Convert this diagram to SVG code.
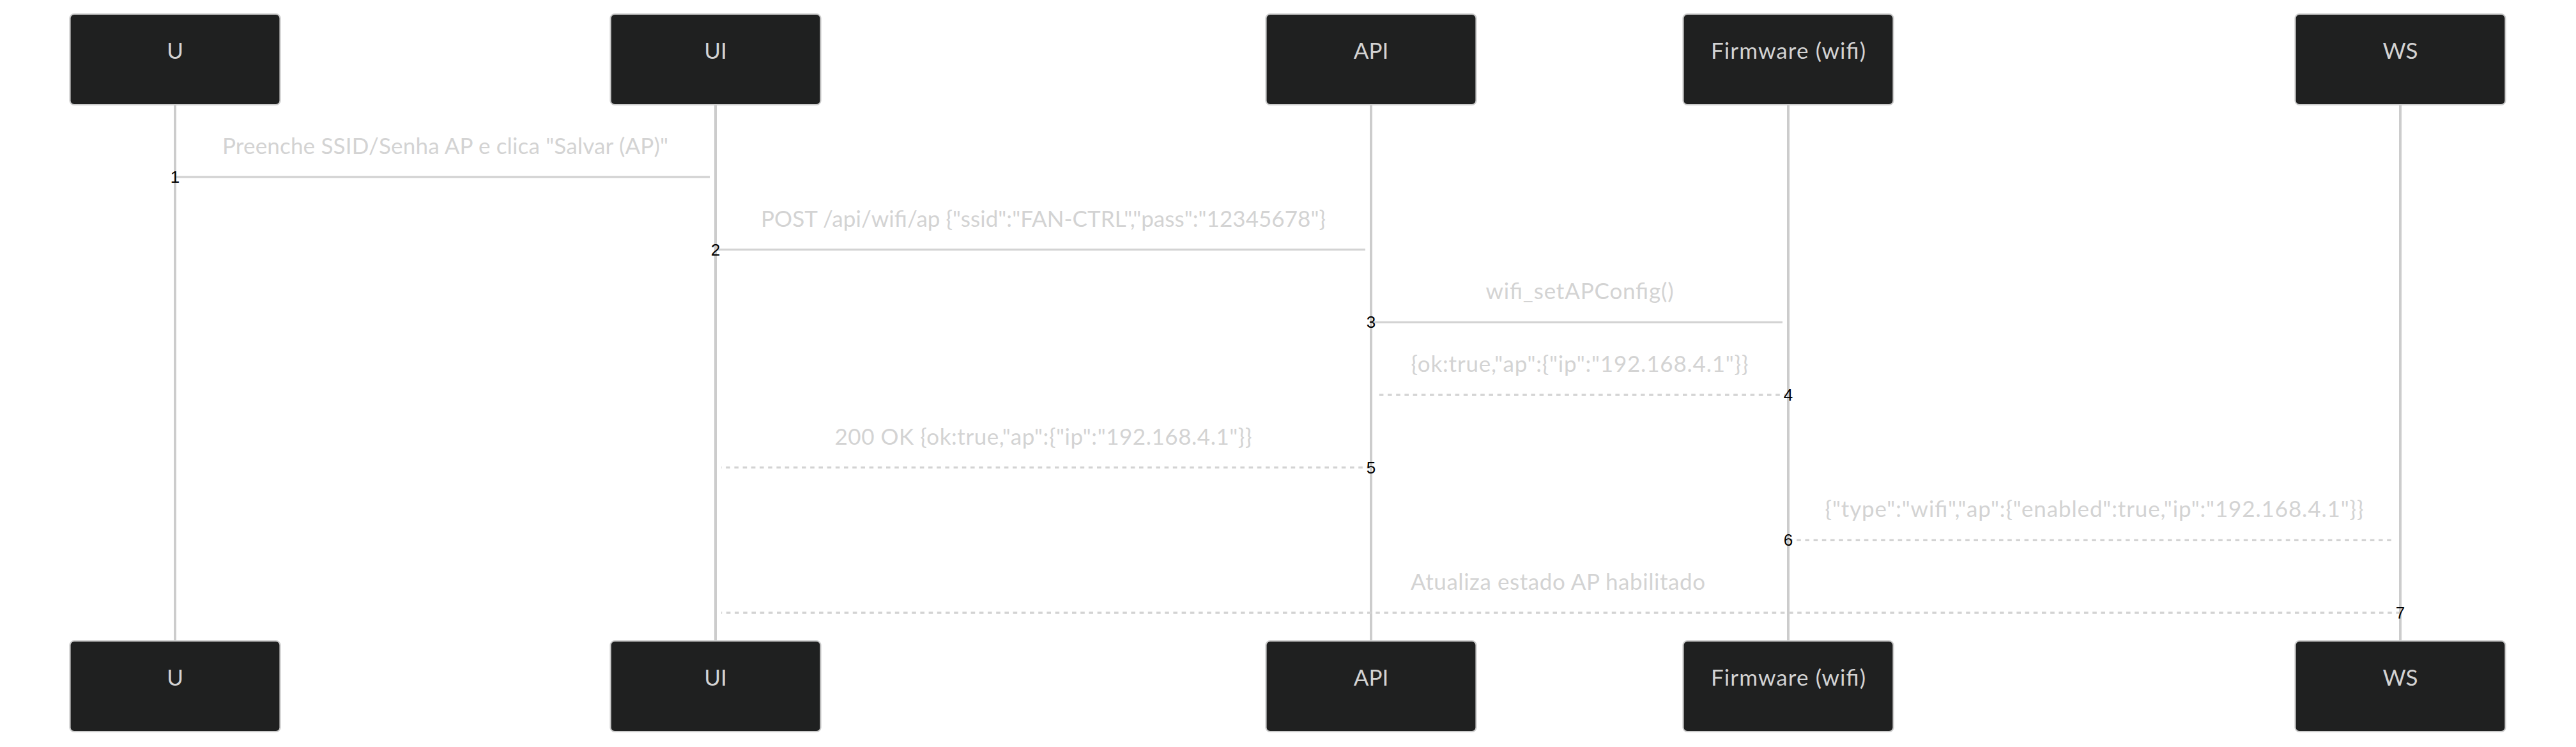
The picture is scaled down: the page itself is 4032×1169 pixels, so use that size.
<svg xmlns="http://www.w3.org/2000/svg" width="4032" height="1169" viewBox="0 0 4032 1169">
<style>
  .actor { fill: #1f2020; stroke: #cccccc; stroke-width: 2.2; }
  .actor-text { fill: #d3d3d3; font-family: Lato, "Open Sans", "Liberation Sans", sans-serif; font-size: 35px; text-anchor: middle; }
  .lifeline { stroke: #cccccc; stroke-width: 4; }
  .msg { stroke: #d3d3d3; stroke-width: 3.3; fill: none; }
  .dotted { stroke-dasharray: 6.6 6.6; }
  .msg-text { fill: #d3d3d3; font-family: Lato, "Open Sans", "Liberation Sans", sans-serif; font-size: 35px; text-anchor: middle; }
  .seq { fill: #000000; font-family: "Liberation Sans", Arial, sans-serif; font-size: 26px; text-anchor: middle; }
</style>
<rect width="4032" height="1169" fill="#ffffff"/>
<g id="lifelines">
  <line class="lifeline" x1="274" y1="164" x2="274" y2="1003"/>
  <line class="lifeline" x1="1120" y1="164" x2="1120" y2="1003"/>
  <line class="lifeline" x1="2146" y1="164" x2="2146" y2="1003"/>
  <line class="lifeline" x1="2799" y1="164" x2="2799" y2="1003"/>
  <line class="lifeline" x1="3757" y1="164" x2="3757" y2="1003"/>
</g>
<g id="actor-U">
  <rect class="actor" x="109.5" y="22" width="329" height="142" rx="6.6"/>
  <text class="actor-text" x="274" y="92">U</text>
  <rect class="actor" x="109.5" y="1003" width="329" height="142" rx="6.6"/>
  <text class="actor-text" x="274" y="1073">U</text>
</g>
<g id="actor-UI">
  <rect class="actor" x="955.5" y="22" width="329" height="142" rx="6.6"/>
  <text class="actor-text" x="1120" y="92">UI</text>
  <rect class="actor" x="955.5" y="1003" width="329" height="142" rx="6.6"/>
  <text class="actor-text" x="1120" y="1073">UI</text>
</g>
<g id="actor-API">
  <rect class="actor" x="1981.5" y="22" width="329" height="142" rx="6.6"/>
  <text class="actor-text" x="2146" y="92">API</text>
  <rect class="actor" x="1981.5" y="1003" width="329" height="142" rx="6.6"/>
  <text class="actor-text" x="2146" y="1073">API</text>
</g>
<g id="actor-FW">
  <rect class="actor" x="2634.5" y="22" width="329" height="142" rx="6.6"/>
  <text class="actor-text" x="2799" y="92" textLength="242">Firmware (wifi)</text>
  <rect class="actor" x="2634.5" y="1003" width="329" height="142" rx="6.6"/>
  <text class="actor-text" x="2799" y="1073" textLength="242">Firmware (wifi)</text>
</g>
<g id="actor-WS">
  <rect class="actor" x="3592.5" y="22" width="329" height="142" rx="6.6"/>
  <text class="actor-text" x="3757" y="92">WS</text>
  <rect class="actor" x="3592.5" y="1003" width="329" height="142" rx="6.6"/>
  <text class="actor-text" x="3757" y="1073">WS</text>
</g>
<g id="connectors">
  <text class="msg-text" x="697" y="241" textLength="698">Preenche SSID/Senha AP e clica "Salvar (AP)"</text>
  <line class="msg" x1="274" y1="277" x2="1111" y2="277"/>
  <text class="seq" x="274" y="286">1</text>

  <text class="msg-text" x="1633" y="354.7" textLength="884">POST /api/wifi/ap {"ssid":"FAN-CTRL","pass":"12345678"}</text>
  <line class="msg" x1="1120" y1="390.7" x2="2137" y2="390.7"/>
  <text class="seq" x="1120" y="399.7">2</text>

  <text class="msg-text" x="2472.5" y="468.3" textLength="294">wifi_setAPConfig()</text>
  <line class="msg" x1="2146" y1="504.3" x2="2790" y2="504.3"/>
  <text class="seq" x="2146" y="513.3">3</text>

  <text class="msg-text" x="2472.5" y="582" textLength="528">{ok:true,"ap":{"ip":"192.168.4.1"}}</text>
  <line class="msg dotted" x1="2799" y1="618" x2="2155" y2="618"/>
  <text class="seq" x="2799" y="627">4</text>

  <text class="msg-text" x="1633" y="695.7" textLength="653">200 OK {ok:true,"ap":{"ip":"192.168.4.1"}}</text>
  <line class="msg dotted" x1="2146" y1="731.7" x2="1129" y2="731.7"/>
  <text class="seq" x="2146" y="740.7">5</text>

  <text class="msg-text" x="3278" y="809.3" textLength="843">{"type":"wifi","ap":{"enabled":true,"ip":"192.168.4.1"}}</text>
  <line class="msg dotted" x1="2799" y1="845.3" x2="3748" y2="845.3"/>
  <text class="seq" x="2799" y="854.3">6</text>

  <text class="msg-text" x="2438.5" y="923" textLength="461">Atualiza estado AP habilitado</text>
  <line class="msg dotted" x1="3757" y1="959" x2="1129" y2="959"/>
  <text class="seq" x="3757" y="968">7</text>
</g>
</svg>
